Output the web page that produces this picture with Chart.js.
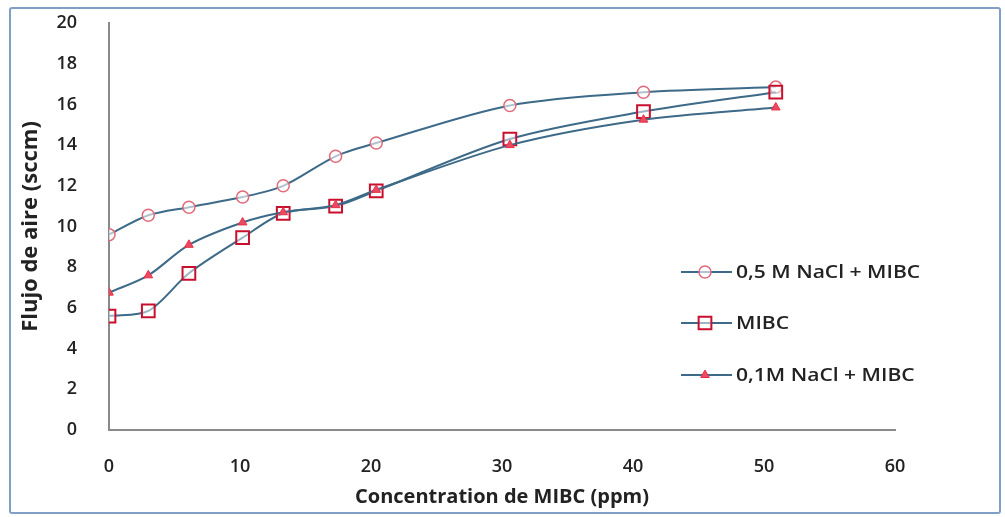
<!DOCTYPE html>
<html>
<head>
<meta charset="utf-8">
<script src="https://cdn.jsdelivr.net/npm/chart.js@4/dist/chart.umd.min.js"></script>
<style>
  html, body { margin: 0; padding: 0; background: #fff; }
  #wrap { position: relative; width: 1005px; height: 517px; }
  #frame { position: absolute; left: 9px; top: 7px; width: 992px; height: 507px;
           border: 2px solid #7f9fc6; border-radius: 3px; box-sizing: border-box; }
  canvas { position: absolute; left: 0; top: 0; }
</style>
</head>
<body>
<div id="wrap">
  <div id="frame"></div>
  <canvas id="lineChart" width="1005" height="517"></canvas>
</div>
<script>
'use strict';

// MIBC concentration (ppm) for each measurement
const concentration = [0, 3, 6.1, 10.2, 13.3, 17.3, 20.4, 30.6, 40.8, 50.9];

// air flow (sccm)
const nacl05Mibc = [9.6, 10.55, 10.95, 11.45, 12.0, 13.45, 14.1, 15.95, 16.6, 16.85];
const mibcOnly   = [5.6, 5.85, 7.7, 9.45, 10.65, 11.0, 11.75, 14.3, 15.65, 16.6];
const nacl01Mibc = [6.75, 7.6, 9.1, 10.2, 10.7, 11.05, 11.8, 14.0, 15.25, 15.85];

const seriesNames = ["0,5 M NaCl + MIBC", "MIBC", "0,1M NaCl + MIBC"];

const xTicks = [0, 10, 20, 30, 40, 50, 60];

const lineColor = '#3d6a88';
const fontFamily = '"Open Sans", Lato, sans-serif';

function toPoints(ys) {
  return ys.map(function(y, i) { return {x: concentration[i], y: y}; });
}

// draws the legend on the right, inside the plot
const sideLegend = {
  id: 'sideLegend',
  afterDraw(chart) {
    const c = chart.ctx;
    const rows = [272, 323, 375];
    chart.data.datasets.forEach(function(ds, i) {
      const y = rows[i];
      c.save();
      c.strokeStyle = ds.borderColor;
      c.lineWidth = 2;
      c.beginPath();
      c.moveTo(681, y);
      c.lineTo(732, y);
      c.stroke();
      c.fillStyle = ds.pointBackgroundColor;
      c.strokeStyle = ds.pointBorderColor;
      c.lineWidth = ds.pointBorderWidth;
      Chart.helpers.drawPoint(c, {
        pointStyle: ds.pointStyle,
        radius: ds.pointRadius,
        borderWidth: ds.pointBorderWidth
      }, 705, y);
      // text is a bit wider than tall in the original
      c.translate(736, y + 1);
      c.scale(1.17, 1);
      c.fillStyle = '#222';
      c.font = '600 18px ' + fontFamily;
      c.textBaseline = 'middle';
      c.fillText(ds.label, 0, 0);
      c.restore();
    });
  }
};

const ctx = document.getElementById('lineChart');

let lineChart = new Chart(ctx, {
  type: 'line',
  data: {
    datasets: [
      {
        label: seriesNames[0],
        data: toPoints(nacl05Mibc),
        borderColor: lineColor,
        borderWidth: 2,
        pointStyle: 'circle',
        pointRadius: 6,
        pointBorderWidth: 1.5,
        pointBorderColor: '#e06a7a',
        pointBackgroundColor: 'rgba(255,255,255,0.6)',
        tension: 0.3,
        order: 3
      },
      {
        label: seriesNames[1],
        data: toPoints(mibcOnly),
        borderColor: lineColor,
        borderWidth: 2,
        pointStyle: 'rect',
        pointRadius: 9,
        pointBorderWidth: 2,
        pointBorderColor: '#c8102e',
        pointBackgroundColor: 'rgba(255,255,255,0.5)',
        tension: 0.3,
        order: 2
      },
      {
        label: seriesNames[2],
        data: toPoints(nacl01Mibc),
        borderColor: lineColor,
        borderWidth: 2,
        pointStyle: 'triangle',
        pointRadius: 5,
        pointBorderWidth: 1,
        pointBorderColor: '#e8304a',
        pointBackgroundColor: '#ec4a60',
        tension: 0.3,
        order: 1
      }
    ]
  },
  options: {
    responsive: false,
    animation: false,
    layout: {
      autoPadding: false,
      padding: {left: 18, right: 110, top: 23, bottom: 8}
    },
    plugins: {
      legend: { display: false },
      tooltip: { enabled: false }
    },
    scales: {
      x: {
        type: 'linear',
        min: 0,
        max: 60,
        afterBuildTicks: function(axis) {
          axis.ticks = xTicks.map(function(v) { return {value: v}; });
        },
        afterFit: function(axis) {
          axis.height = 79;
          axis.paddingLeft = 0;
          axis.paddingRight = 0;
        },
        grid: { display: false },
        border: { display: true, color: '#8a8a8a', width: 2 },
        ticks: {
          padding: 18,
          color: '#222',
          font: { family: fontFamily, size: 18, weight: '600' }
        },
        title: {
          display: true,
          text: 'Concentration de MIBC (ppm)',
          color: '#222',
          padding: 0,
          font: { family: fontFamily, size: 20, weight: 'bold' }
        }
      },
      y: {
        min: 0,
        max: 20,
        afterFit: function(axis) {
          axis.width = 91;
          axis.paddingTop = 0;
          axis.paddingBottom = 0;
        },
        grid: { display: false },
        border: { display: true, color: '#8a8a8a', width: 2 },
        ticks: {
          stepSize: 2,
          padding: 24,
          color: '#222',
          font: { family: fontFamily, size: 18, weight: '600' }
        },
        title: {
          display: true,
          text: 'Flujo de aire (sccm)',
          color: '#222',
          padding: {top: 0, bottom: 0},
          font: { family: fontFamily, size: 22, weight: 'bold' }
        }
      }
    }
  },
  plugins: [sideLegend]
});
</script>
</body>
</html>
